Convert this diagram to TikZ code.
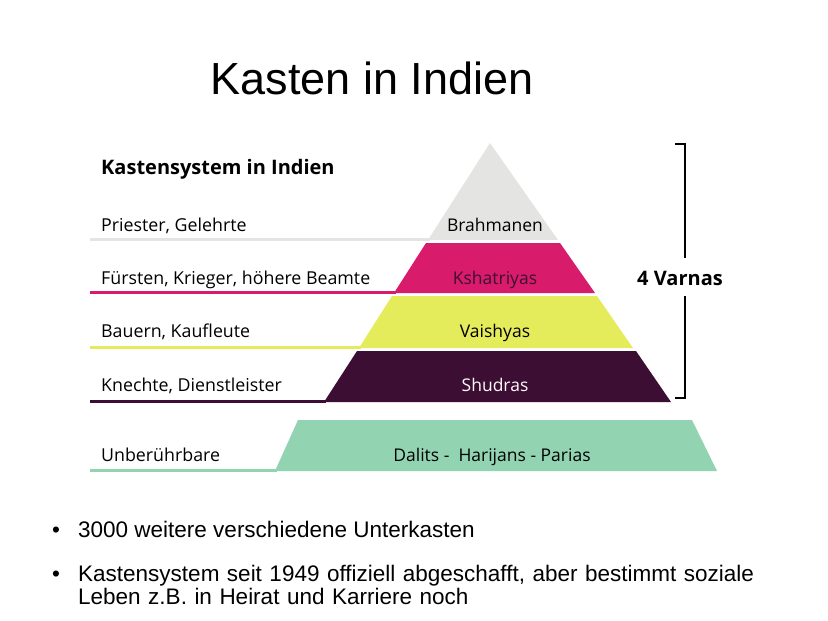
\documentclass[tikz,border=0pt]{standalone}
\usepackage{fontspec}
\setmainfont{Liberation Sans}
\newfontfamily\lab{Open Sans}
\definecolor{cgray}{HTML}{E4E4E2}
\definecolor{cmag}{HTML}{D81B6B}
\definecolor{cyel}{HTML}{E5EC5C}
\definecolor{cpur}{HTML}{3C0E33}
\definecolor{cgrn}{HTML}{92D4B2}
\begin{document}
\begin{tikzpicture}[x=1pt,y=-1pt,
  lbl/.style={font=\lab\fontsize{17.8}{20}\selectfont,anchor=base west,inner sep=0},
  mid/.style={font=\lab\fontsize{17.5}{20}\selectfont,anchor=base,inner sep=0},
  bul/.style={font=\fontsize{22.5}{23}\selectfont,anchor=base west,inner sep=0,align=left}]
\useasboundingbox[fill=white] (0,0) rectangle (828,621);
\node[font=\fontsize{45}{48}\selectfont,anchor=base] (title) at (372,94) {Kasten in Indien};
\node[lbl,font=\lab\bfseries\fontsize{20}{22}\selectfont] (head) at (101,174) {Kastensystem in Indien};
% bands
\fill[cgray] (490,143) -- (558,240) -- (428,240) -- cycle;
\fill[cmag] (426,243) -- (560,243) -- (595,293) -- (394,293) -- cycle;
\fill[cyel] (392,296) -- (597,296) -- (633,348) -- (359,348) -- cycle;
\fill[cpur] (357,351) -- (636,351) -- (671,402) -- (324,402) -- cycle;
\fill[cgrn] (298,420) -- (692,420) -- (717,471) -- (275,471) -- cycle;
% lines
\draw[cgray,line width=3] (90,239) -- (430,239);
\draw[cmag,line width=3] (90,292) -- (396,292);
\draw[cyel,line width=3] (90,347) -- (361,347);
\draw[cpur,line width=3] (90,401) -- (326,401);
\draw[cgrn,line width=3] (90,470) -- (277,470);
% labels
\node[lbl] (l1) at (101,231) {Priester, Gelehrte};
\node[lbl] (l2) at (101,284) {Fürsten, Krieger, höhere Beamte};
\node[lbl] (l3) at (101,337) {Bauern, Kaufleute};
\node[lbl] (l4) at (101,391) {Knechte, Dienstleister};
\node[lbl] (l5) at (101,461) {Unberührbare};
\node[mid] (m1) at (495,231) {Brahmanen};
\node[mid,text=cpur] (m2) at (495,284) {Kshatriyas};
\node[mid] (m3) at (495,337) {Vaishyas};
\node[mid,text=white!90!pink] (m4) at (495,391) {Shudras};
\node[mid] (m5) at (492,461) {Dalits -\ \ Harijans - Parias};
% bracket
\draw[line width=2.2] (675,144) -- (685,144) -- (685,258);
\draw[line width=2.2] (685,296) -- (685,398) -- (675,398);
\node[font=\lab\bfseries\fontsize{20}{22}\selectfont,anchor=base,inner sep=0] (v) at (680,285) {4 Varnas};
% bullets
\node[bul] (b1) at (52,537) {•};
\node[bul] (t1) at (78,537) {3000 weitere verschiedene Unterkasten};
\node[bul] (b2) at (52,581) {•};
\node[bul,text width=740pt] (t2) at (78,581) {Kastensystem seit 1949 offiziell abgeschafft, aber bestimmt soziale\\Leben z.B. in Heirat und Karriere noch};
\end{tikzpicture}
\end{document}
